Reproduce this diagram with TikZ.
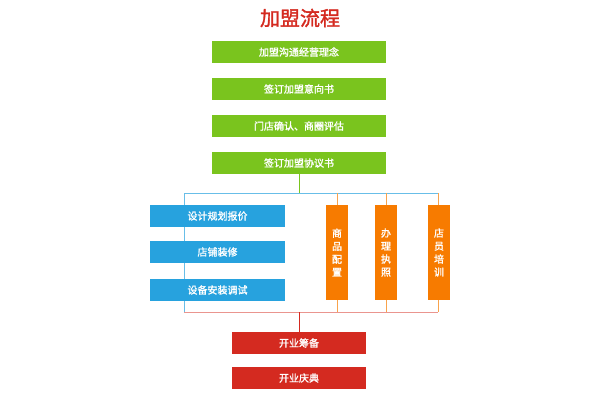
\documentclass[tikz,border=0pt]{standalone}
\usepackage{fontspec}
\newfontfamily\cjk[FakeBold=1.5]{Noto Sans CJK SC}
\definecolor{gr}{HTML}{7AC41E}
\definecolor{bl}{HTML}{27A2DE}
\definecolor{org}{HTML}{F77B00}
\definecolor{rd}{HTML}{D42A20}
\begin{document}
\begin{tikzpicture}[x=1pt,y=-1pt,
  box/.style={fill=#1,text=white,inner sep=0pt,font=\cjk\fontsize{10}{12}\selectfont},
  gbox/.style={box=gr,minimum width=174pt,minimum height=22pt},
  bbox/.style={box=bl,minimum width=135pt,minimum height=22pt},
  obox/.style={box=org,minimum width=22pt,minimum height=95pt,align=center,font=\cjk\fontsize{10}{13}\selectfont},
  rbox/.style={box=rd,minimum width=134pt,minimum height=22pt},
  ln/.style={line width=0.8pt,draw=#1}]
\useasboundingbox (0,0) rectangle (600,400);
\coordinate (tl) at (184,193); \coordinate (tr) at (438,193);
\coordinate (bll) at (184,312); \coordinate (brr) at (438,312);
\coordinate (tm) at (299,193); \coordinate (bm) at (299,312);
\draw[ln=bl!70] (tl) -- (tr);
\draw[ln=bl!70] (tl) -- (bll);
\draw[ln=rd!50] (bll) -- (brr);
\draw[ln=org!70] (337,193) -- (337,312);
\draw[ln=org!70] (386,193) -- (386,312);
\draw[ln=org!70] (438,193) -- (438,312);
\node[font=\cjk\fontsize{20}{24}\selectfont,text=rd] (title) at (300,18) {加盟流程};
\node[gbox] (g1) at (299,52) {加盟沟通经营理念};
\node[gbox] (g2) at (299,89) {签订加盟意向书};
\node[gbox] (g3) at (299,126) {门店确认、商圈评估};
\node[gbox] (g4) at (299,163) {签订加盟协议书};
\draw[ln=gr] (g4.south) -- (tm);
\node[bbox] (b1) at (217.5,216) {设计规划报价};
\node[bbox] (b2) at (217.5,252) {店铺装修};
\node[bbox] (b3) at (217.5,290) {设备安装调试};
\node[obox] (o1) at (337,252.5) {商\\品\\配\\置};
\node[obox] (o2) at (386,252.5) {办\\理\\执\\照};
\node[obox] (o3) at (439,252.5) {店\\员\\培\\训};
\node[rbox] (r1) at (299,343) {开业筹备};
\node[rbox] (r2) at (299,378) {开业庆典};
\draw[ln=rd] (bm) -- (r1.north);
\end{tikzpicture}
\end{document}
